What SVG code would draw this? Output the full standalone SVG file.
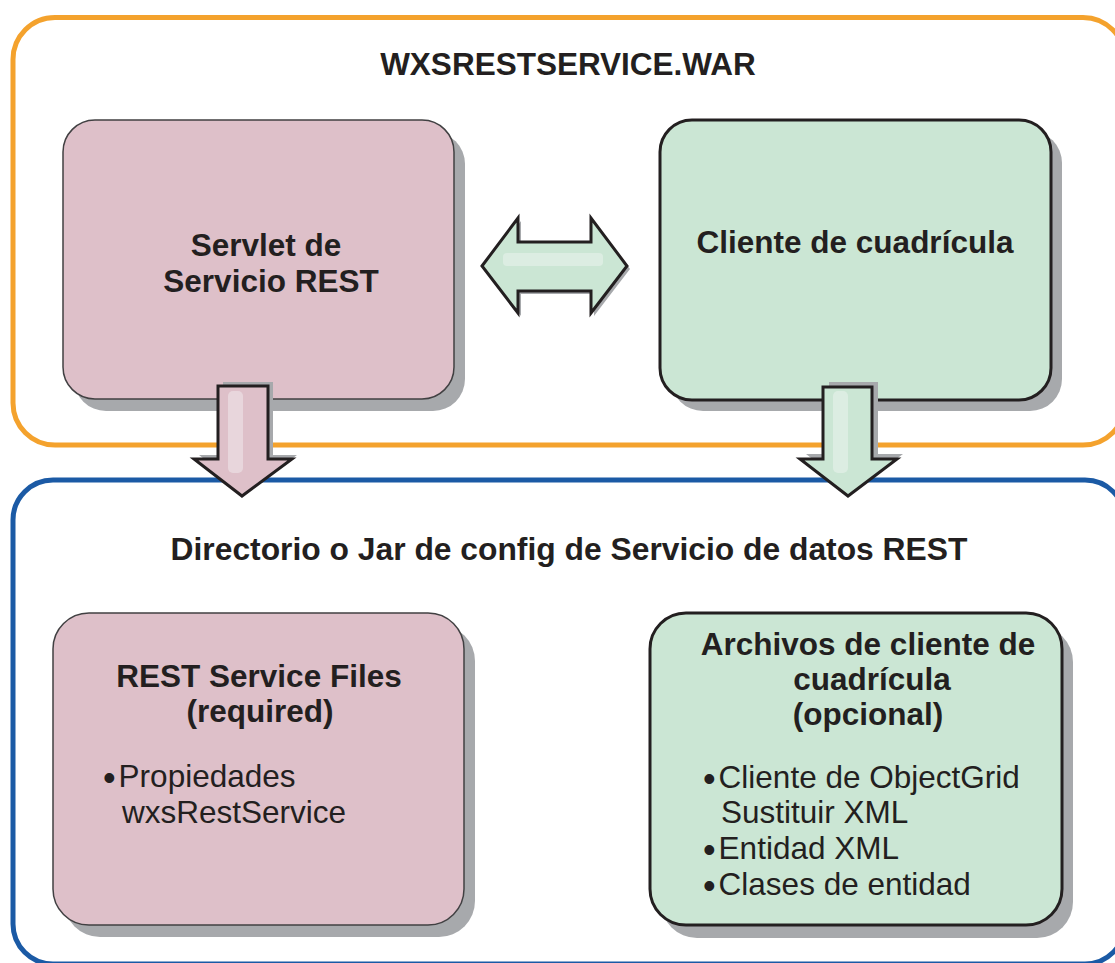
<svg xmlns="http://www.w3.org/2000/svg" width="1115" height="963" viewBox="0 0 1115 963">
<style>
.t{font-family:"Liberation Sans",Arial,sans-serif;fill:#231f20;font-size:31.5px}
.b{font-weight:bold}
.c{text-anchor:middle}
.bul{font-size:36px}
.shadow{fill:#a7a9ac}
.pink{fill:#dec0c9;stroke:#414042;stroke-width:1.5}
.green{fill:#cbe6d4;stroke:#231f20;stroke-width:3}
.arrP{fill:#dec0c9;stroke:#231f20;stroke-width:3;stroke-linejoin:miter}
.arrG{fill:#cbe6d4;stroke:#231f20;stroke-width:3;stroke-linejoin:miter}
</style>
<rect width="1115" height="963" fill="#ffffff"/>
<g id="war-container">
<rect x="13" y="17.5" width="1112" height="427.5" rx="42" fill="none" stroke="#f4a22d" stroke-width="5"/>
<text class="t b c" x="568" y="75">WXSRESTSERVICE.WAR</text>
</g>
<g id="config-container">
<rect x="13" y="480" width="1112" height="484" rx="40" fill="none" stroke="#1b5aa5" stroke-width="5"/>
<text class="t b c" x="569" y="560" style="font-size:31.8px">Directorio o Jar de config de Servicio de datos REST</text>
</g>
<g id="servlet">
<rect class="shadow" x="74" y="132" width="391" height="279" rx="32"/>
<rect class="pink" x="63" y="120" width="391" height="279" rx="32"/>
<text class="t b c" x="266" y="256">Servlet de</text>
<text class="t b c" x="271" y="292">Servicio REST</text>
</g>
<g id="grid-client">
<rect class="shadow" x="671" y="131" width="391" height="280" rx="32"/>
<rect class="green" x="660" y="120" width="391" height="280" rx="32"/>
<text class="t b c" x="855" y="253">Cliente de cuadrícula</text>
</g>
<g id="rest-files">
<rect class="shadow" x="64" y="625" width="411" height="312" rx="36"/>
<rect class="pink" x="53" y="613" width="411" height="312" rx="36"/>
<text class="t b c" x="259" y="687">REST Service Files</text>
<text class="t b c" x="260" y="722">(required)</text>
<text class="t" x="103" y="787"><tspan class="bul" dy="3">•</tspan><tspan dx="3" dy="-3">Propiedades</tspan></text>
<text class="t" x="122" y="823">wxsRestService</text>
</g>
<g id="grid-files">
<rect class="shadow" x="661" y="626" width="412" height="312" rx="36"/>
<rect class="green" x="650" y="613" width="412" height="312" rx="36"/>
<text class="t b c" x="868" y="655">Archivos de cliente de</text>
<text class="t b c" x="872" y="690">cuadrícula</text>
<text class="t b c" x="868" y="725">(opcional)</text>
<text class="t" x="703" y="788"><tspan class="bul" dy="3">•</tspan><tspan dx="3" dy="-3">Cliente de ObjectGrid</tspan></text>
<text class="t" x="721" y="823">Sustituir XML</text>
<text class="t" x="703" y="859"><tspan class="bul" dy="3">•</tspan><tspan dx="3" dy="-3">Entidad XML</tspan></text>
<text class="t" x="703" y="895"><tspan class="bul" dy="3">•</tspan><tspan dx="3" dy="-3">Clases de entidad</tspan></text>
</g>
<g id="connectors">
<g id="double-arrow">
<polygon class="shadow" transform="translate(3,3)" points="482,266 518,218 518,242 591,242 591,218 627,266 591,313 591,291 518,291 518,313"/>
<polygon class="arrG" points="482,266 518,218 518,242 591,242 591,218 627,266 591,313 591,291 518,291 518,313"/>
<rect x="503" y="253" width="100" height="13" rx="4" fill="#dcede2"/>
</g>
<g id="down-arrow-left">
<polygon class="shadow" transform="translate(5,-4)" points="218,386 268,386 268,459 292,459 242,496 194,459 218,459"/>
<polygon class="arrP" points="218,386 268,386 268,459 292,459 242,496 194,459 218,459"/>
<rect x="228" y="391" width="15" height="82" rx="5" fill="#e8d6dc"/>
</g>
<g id="down-arrow-right">
<polygon class="shadow" transform="translate(6,-5)" points="823,387 872,387 872,459 897,459 848,496 800,459 823,459"/>
<polygon class="arrG" points="823,387 872,387 872,459 897,459 848,496 800,459 823,459"/>
<rect x="833" y="391" width="15" height="82" rx="5" fill="#dcede2"/>
</g>
</g>
</svg>
